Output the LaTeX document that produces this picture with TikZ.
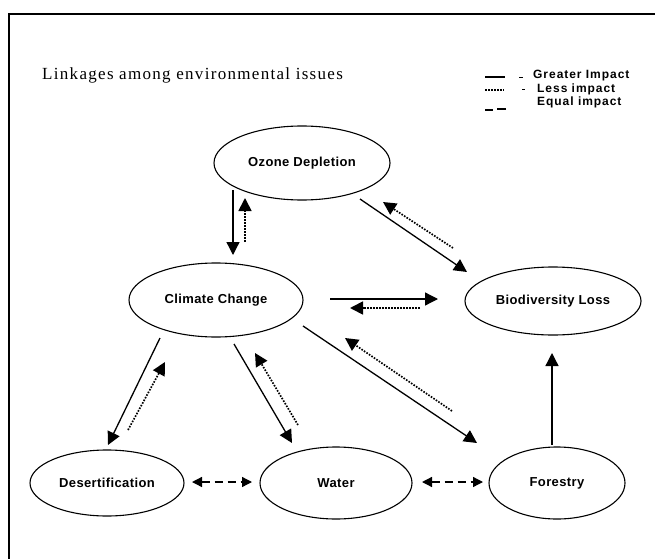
\documentclass[tikz,border=0pt]{standalone}
\usepackage{fontspec}
\setmainfont{Liberation Serif}
\newfontfamily\labfont{Liberation Sans}[LetterSpace=3]
\newfontfamily\legfont{Liberation Sans}[LetterSpace=8]
\newfontfamily\titfont{Liberation Serif}[LetterSpace=7.7]
\usetikzlibrary{shapes.geometric,arrows.meta,calc}
\begin{document}
\begin{tikzpicture}[x=1pt,y=-1pt,
  issue/.style={ellipse,draw,line width=1.1pt,inner sep=0pt,font=\labfont\bfseries\fontsize{13}{15}\selectfont},
  tip/.style={-{Triangle[length=13pt,width=13pt]}},
  greater/.style={tip,line width=1.3pt},
  lesser/.style={tip,line width=1.7pt,dash pattern=on 1.6pt off 1.4pt},
  equal/.style={{Triangle[length=10pt,width=10pt]}-{Triangle[length=10pt,width=10pt]},line width=1.3pt,dash pattern=on 8pt off 5pt},
  legtext/.style={anchor=west,inner sep=0pt,font=\legfont\bfseries\fontsize{12}{14}\selectfont}
]
\useasboundingbox (0,0) rectangle (655,559);
% frame
\draw[line width=2pt] (8,14) -- (655,14);
\draw[line width=2pt] (9,14) -- (9,559);
% title
\node[anchor=west,inner sep=0pt,font=\titfont\fontsize{17}{19}\selectfont] (title) at (42,75) {Linkages among environmental issues};
% legend
\coordinate (lg1a) at (485,77); \coordinate (lg1b) at (505,77);
\draw[line width=1.5pt] (lg1a) -- (lg1b);
\draw[line width=1pt] (519,78) -- (523,78);
\node[legtext] (leg1) at (533,76) {Greater Impact};
\coordinate (lg2a) at (485,90); \coordinate (lg2b) at (504,90);
\draw[line width=1.5pt,dash pattern=on 1.5pt off 1.5pt] (lg2a) -- (lg2b);
\draw[line width=1pt] (522,90) -- (525,90);
\node[legtext] (leg2) at (537,89) {Less impact};
\coordinate (lg3a) at (485,110); \coordinate (lg3b) at (506,109);
\draw[line width=1.5pt] (lg3a) -- ++(8,0);
\draw[line width=1.5pt] (lg3b) -- ++(-9,0);
\node[legtext] (leg3) at (537,102) {Equal impact};
% issues
\node[issue,minimum width=176pt,minimum height=74pt] (oz) at (302,163) {Ozone Depletion};
\node[issue,minimum width=174pt,minimum height=74pt] (cc) at (216,300) {Climate Change};
\node[issue,minimum width=176pt,minimum height=68pt] (bl) at (553,301) {Biodiversity Loss};
\node[issue,minimum width=154pt,minimum height=66pt] (de) at (107,483) {Desertification};
\node[issue,minimum width=152pt,minimum height=72pt] (wa) at (336,483) {Water};
\node[issue,minimum width=136pt,minimum height=72pt] (fo) at (557,483) {Forestry};
% linkages
\draw[greater] ($(oz)+(-69,27)$) -- ($(cc)+(17,-45)$);
\draw[lesser]  ($(cc)+(29,-58)$) -- ($(oz)+(-57,35)$);
\draw[greater] ($(oz)+(58,36)$) -- ($(bl)+(-86,-29)$);
\draw[lesser]  ($(bl)+(-100,-53)$) -- ($(oz)+(81,39)$);
\draw[greater] ($(cc)+(114,-1)$) -- ($(bl)+(-115,-2)$);
\draw[lesser]  ($(bl)+(-133,7)$) -- ($(cc)+(134,8)$);
\draw[greater] ($(cc)+(-56,38)$) -- ($(de)+(1,-38)$);
\draw[lesser]  ($(de)+(21,-53)$) -- ($(cc)+(-51,62)$);
\draw[greater] ($(cc)+(18,44)$) -- ($(wa)+(-44,-40)$);
\draw[lesser]  ($(wa)+(-38,-58)$) -- ($(cc)+(39,53)$);
\draw[greater] ($(cc)+(87,26)$) -- ($(fo)+(-80,-40)$);
\draw[lesser]  ($(fo)+(-105,-72)$) -- ($(cc)+(129,38)$);
\draw[greater] ($(fo)+(-5,-38)$) -- ($(bl)+(-1,52)$);
\draw[equal] ($(de)+(85,-1)$) -- ($(wa)+(-84,-1)$);
\draw[equal] ($(wa)+(86,-1)$) -- ($(fo)+(-74,-1)$);
\end{tikzpicture}
\end{document}
